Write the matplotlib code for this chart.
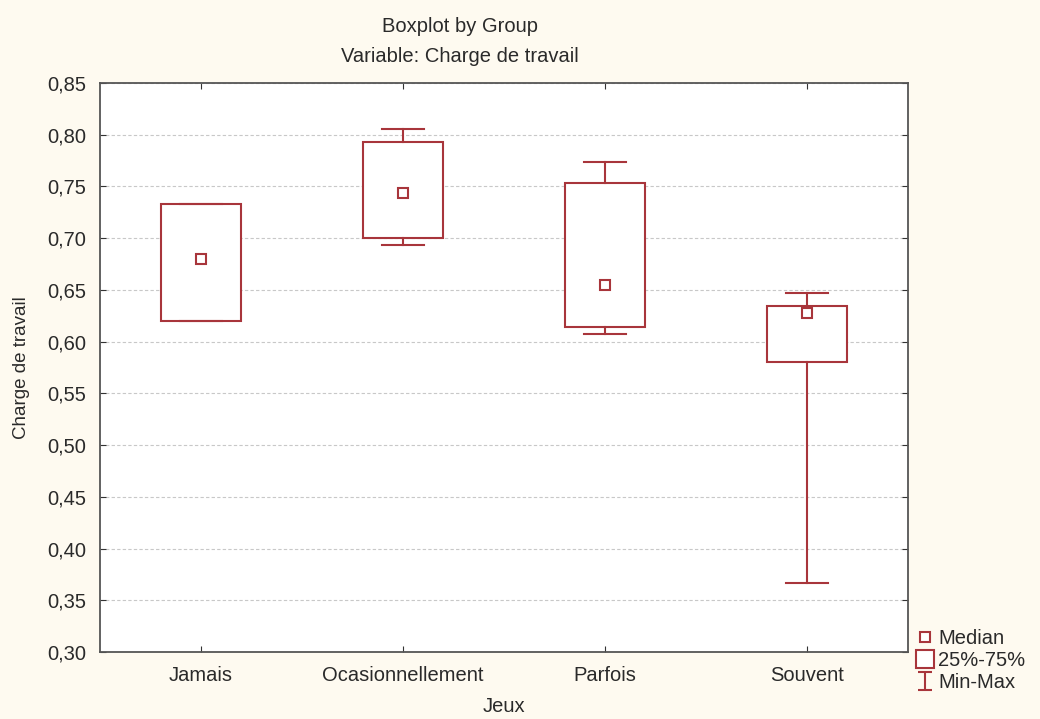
import matplotlib
matplotlib.use("Agg")
import matplotlib.pyplot as plt
from matplotlib.lines import Line2D
from matplotlib.path import Path
import numpy as np

plt.rcParams['font.family'] = ['Liberation Sans', 'DejaVu Sans']

categories = ["Jamais", "Ocasionnellement", "Parfois", "Souvent"]
medians = [0.680, 0.744, 0.655, 0.628]
q1 = [0.620, 0.700, 0.614, 0.580]
q3 = [0.733, 0.793, 0.753, 0.634]
mins = [0.620, 0.693, 0.607, 0.367]
maxs = [0.733, 0.806, 0.774, 0.647]
yticks = [0.30, 0.35, 0.40, 0.45, 0.50, 0.55, 0.60, 0.65, 0.70, 0.75, 0.80, 0.85]

red = "#A8353B"
bg = "#FEFAF0"
txt = "#2A2A2A"

fig = plt.figure(figsize=(10.4, 7.19), dpi=100, facecolor=bg)
ax = fig.add_axes([100/1040, 1-652/719, 808/1040, 569/719])
ax.set_facecolor("white")

stats = []
for i, c in enumerate(categories):
    stats.append(dict(label=c, med=medians[i], q1=q1[i], q3=q3[i],
                      whislo=mins[i], whishi=maxs[i], fliers=[]))
pos = np.arange(len(categories))
ax.bxp(stats, positions=pos, widths=0.40, patch_artist=True, showfliers=False,
       boxprops=dict(facecolor="white", edgecolor=red, linewidth=1.5),
       whiskerprops=dict(color=red, linewidth=1.5),
       capprops=dict(color=red, linewidth=1.5),
       medianprops=dict(linewidth=0), capwidths=0.21, zorder=3)
ax.plot(pos, medians, linestyle="none", marker="s", markersize=7,
        markerfacecolor="white", markeredgecolor=red, markeredgewidth=1.5, zorder=4)

ax.set_xlim(-0.5, 3.5)
ax.set_ylim(0.30, 0.85)
ax.set_yticks(yticks)
ax.set_yticklabels([f"{v:.2f}".replace(".", ",") for v in yticks])
ax.set_xticks(pos)
ax.set_xticklabels(categories)
ax.tick_params(axis="both", direction="in", length=4, labelsize=14.5, labelcolor=txt,
               color="#333333", top=True, right=True)
ax.tick_params(axis="x", pad=10)
ax.tick_params(axis="y", pad=10)
ax.grid(axis="y", linestyle=(0, (3, 2)), color="#C8C8C8", linewidth=0.8, zorder=0)
ax.set_axisbelow(True)
for s in ax.spines.values():
    s.set_color("#555555")
    s.set_linewidth(1.3)

ax.set_ylabel("Charge de travail", fontsize=13.5, labelpad=12, color=txt)
ax.set_xlabel("Jeux", fontsize=14.5, labelpad=9, color=txt)

fig.text(460/1040, 1-27/719, "Boxplot by Group", ha="center", va="center",
         fontsize=14.5, color=txt)
fig.text(460/1040, 1-57/719, "Variable: Charge de travail", ha="center", va="center",
         fontsize=14.5, color=txt)

ibeam = Path([(-0.8, 1), (0.8, 1), (0, 1), (0, -1), (-0.8, -1), (0.8, -1)],
             [Path.MOVETO, Path.LINETO, Path.MOVETO, Path.LINETO, Path.MOVETO, Path.LINETO])
handles = [
    Line2D([], [], linestyle="none", marker="s", markersize=7, markerfacecolor="white",
           markeredgecolor=red, markeredgewidth=1.5),
    Line2D([], [], linestyle="none", marker="s", markersize=13, markerfacecolor="white",
           markeredgecolor=red, markeredgewidth=1.5),
    Line2D([], [], linestyle="none", marker=ibeam, markersize=13, markerfacecolor="none",
           markeredgecolor=red, markeredgewidth=1.5),
]
leg = fig.legend(handles, ["Median", "25%-75%", "Min-Max"], loc="upper left",
                 bbox_to_anchor=(908/1040, 1-621/719), frameon=False, fontsize=14.5,
                 handlelength=0.9, handletextpad=0.2, labelspacing=0.15, borderaxespad=0,
                 labelcolor=txt)

fig.savefig("out.png", dpi=100, facecolor=bg)
